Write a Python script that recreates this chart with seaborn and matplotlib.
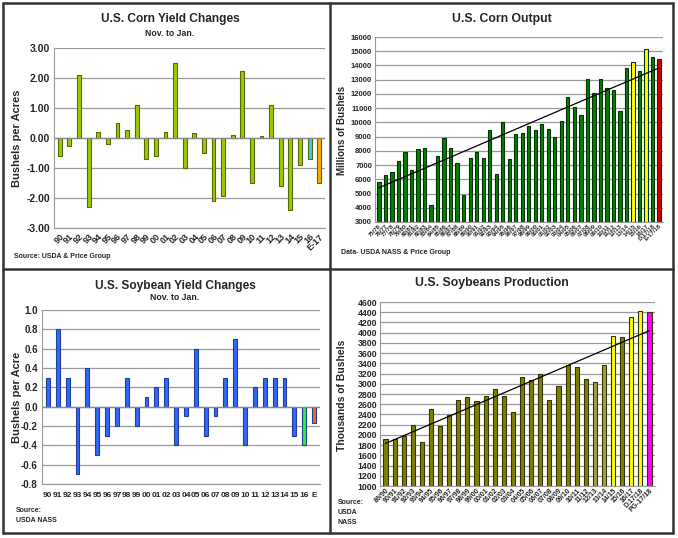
import numpy as np
import pandas as pd
import matplotlib
matplotlib.use("Agg")
import matplotlib.pyplot as plt
import seaborn as sns
from matplotlib.lines import Line2D

sns.set_style("white")
plt.rcParams["font.family"] = ["Liberation Sans", "DejaVu Sans"]
plt.rcParams["font.weight"] = "bold"

# ------------------------------------------
# Data
# ------------------------------------------
corn_yield_years = ["90", "91", "92", "93", "94", "95", "96", "97", "98", "99",
                    "00", "01", "02", "03", "04", "05", "06", "07", "08", "09",
                    "10", "11", "12", "13", "14", "15", "16", "E-17"]
corn_yield_change = [-0.6, -0.25, 2.1, -2.3, 0.2, -0.2, 0.5, 0.27, 1.1, -0.7,
                     -0.6, 0.2, 2.5, -1.0, 0.17, -0.5, -2.1, -1.95, 0.1, 2.25,
                     -1.5, 0.07, 1.1, -1.6, -2.4, -0.9, -0.7, -1.5]

corn_out_years = ["75/76", "76/77", "77/78", "78/79", "79/80", "80/81", "81/82",
                  "82/83", "83/84", "84/85", "85/86", "86/87", "87/88", "88/89",
                  "89/90", "90/91", "91/92", "92/93", "93/94", "94/95", "95/96",
                  "96/97", "97/98", "98/99", "99/00", "00/01", "01/02", "02/03",
                  "03/04", "04/05", "05/06", "06/07", "07/08", "08/09", "09/10",
                  "10/11", "11/12", "12/13", "13/14", "14/15", "15/16", "16/17",
                  "D.17/18", "E-17/18"]
corn_output = [5840, 6290, 6500, 7270, 7930, 6650, 8120, 8230, 4180, 7670,
               8880, 8230, 7130, 4930, 7530, 7930, 7480, 9470, 6340, 10050,
               7400, 9210, 9230, 9760, 9430, 9920, 9510, 8970, 10090, 11810,
               11110, 10530, 13040, 12040, 13070, 12450, 12310, 10780, 13830,
               14220, 13600, 15150, 14600, 14480]

soy_yield_years = ["90", "91", "92", "93", "94", "95", "96", "97", "98", "99",
                   "00", "01", "02", "03", "04", "05", "06", "07", "08", "09",
                   "10", "11", "12", "13", "14", "15", "16", "E"]
soy_yield_change = [0.3, 0.8, 0.3, -0.7, 0.4, -0.5, -0.3, -0.2, 0.3, -0.2,
                    0.1, 0.2, 0.3, -0.4, -0.1, 0.6, -0.3, -0.1, 0.3, 0.7,
                    -0.4, 0.2, 0.3, 0.3, 0.3, -0.3, -0.4, -0.17]

soy_prod_years = ["89/90", "90/91", "91/92", "92/93", "93/94", "94/95", "95/96",
                  "96/97", "97/98", "98/99", "99/00", "00/01", "01/02", "02/03",
                  "03/04", "04/05", "05/06", "06/07", "07/08", "08/09", "09/10",
                  "10/11", "11/12", "12/13", "13/14", "14/15", "15/16", "16/17",
                  "D.17/18", "PG-17/18"]
soy_production = [1925, 1925, 1985, 2190, 1870, 2515, 2175, 2380, 2690, 2740,
                  2655, 2760, 2890, 2755, 2455, 3125, 3065, 3190, 2675, 2965,
                  3360, 3325, 3095, 3035, 3360, 3930, 3925, 4300, 4430, 4410]

# ------------------------------------------
# Colours
# ------------------------------------------
corn_yield_colors = ["#99cc00"] * 26 + ["#33ccff", "#ffaa00"]
corn_out_colors = ["#0a7a0a"] * 44
corn_out_colors[39] = "#ffff00"
corn_out_colors[41] = "#ffff00"
corn_out_colors[43] = "#cc0000"
soy_yield_colors = ["#3366ff"] * 26 + ["#33ee33", "#ff6600"]
soy_prod_colors = ["#808000"] * 30
soy_prod_colors[23] = "#a0a040"
soy_prod_colors[24] = "#a0a040"
soy_prod_colors[25] = "#ffff00"
soy_prod_colors[27] = "#ffff00"
soy_prod_colors[28] = "#ffff00"
soy_prod_colors[29] = "#ff00ff"

W, H = 678, 538
fig = plt.figure(figsize=(W / 100, H / 100), dpi=100)


def px_axes(left, top, right, bottom):
    return fig.add_axes([left / W, 1 - bottom / H, (right - left) / W, (bottom - top) / H])


def ftext(x, y, s, **kw):
    return fig.text(x / W, 1 - y / H, s, **kw)


def bars(ax, labels, values, colors, width, edge):
    df = pd.DataFrame({"label": labels, "value": values})
    sns.barplot(data=df, x="label", y="value", hue="label", palette=colors,
                order=labels, hue_order=labels, legend=False, width=width,
                edgecolor=edge, linewidth=0.8, ax=ax, saturation=1)
    ax.set_xlabel("")
    ax.set_ylabel("")
    ax.set_xlim(-0.6, len(labels) - 0.4)
    ax.grid(axis="y", color="#999999", linewidth=0.9)
    ax.set_axisbelow(True)
    for s in ["top", "right"]:
        ax.spines[s].set_visible(False)
    for s in ["left", "bottom"]:
        ax.spines[s].set_color("#999999")


def trend(ax, values):
    x = np.arange(len(values))
    k, b = np.polyfit(x, values, 1)
    ax.plot(x, k * x + b, color="black", linewidth=0.9, zorder=5)


def slant(ax):
    for t in ax.get_xticklabels():
        t.set_rotation(45)
        t.set_ha("right")
        t.set_rotation_mode("anchor")


# ------------------------------------------
# Corn yield changes
# ------------------------------------------
ax1 = px_axes(54, 48, 325, 228)
bars(ax1, corn_yield_years, corn_yield_change, corn_yield_colors, 0.4, "#556b00")
ticks1 = [-3, -2, -1, 0, 1, 2, 3]
ax1.set_ylim(-3, 3)
ax1.set_yticks(ticks1)
ax1.set_yticklabels([f"{v:.2f}" for v in ticks1], fontsize=7.5)
ax1.axhline(0, color="#888888", linewidth=0.9)
ax1.tick_params(axis="x", labelsize=6.5, length=0, pad=3)
ax1.tick_params(axis="y", length=0, pad=3)
slant(ax1)
ftext(17, 138, "Bushels per Acres", rotation=90, ha="center", va="center",
      fontsize=8)
ftext(170, 19, "U.S. Corn Yield Changes", ha="center", va="center", fontsize=8.6)
ftext(170, 33, "Nov. to Jan.", ha="center", va="center", fontsize=6.3)
ftext(14, 256, "Source: USDA & Price Group", ha="left", va="center", fontsize=5)

# ------------------------------------------
# Corn output
# ------------------------------------------
ax2 = px_axes(375, 37, 663, 222)
bars(ax2, corn_out_years, corn_output, corn_out_colors, 0.5, "#003300")
trend(ax2, corn_output)
ax2.set_ylim(3000, 16000)
ax2.set_yticks(range(3000, 16001, 1000))
ax2.tick_params(axis="y", labelsize=5.5, length=0, pad=2)
ax2.tick_params(axis="x", labelsize=4.3, length=0, pad=1)
slant(ax2)
ftext(342, 130, "Millions of Bushels", rotation=90, ha="center", va="center",
      fontsize=7)
ftext(502, 19, "U.S. Corn Output", ha="center", va="center", fontsize=8.8)
ftext(341, 252, "Data- USDA NASS & Price Group", ha="left", va="center",
      fontsize=5)

# ------------------------------------------
# Soybean yield changes
# ------------------------------------------
ax3 = px_axes(42, 310, 320, 484)
bars(ax3, soy_yield_years, soy_yield_change, soy_yield_colors, 0.4, "#1f3f99")
ticks3 = [-0.8, -0.6, -0.4, -0.2, 0.0, 0.2, 0.4, 0.6, 0.8, 1.0]
ax3.set_ylim(-0.8, 1.0)
ax3.set_yticks(ticks3)
ax3.set_yticklabels([f"{v:.1f}" for v in ticks3], fontsize=7)
ax3.axhline(0, color="#888888", linewidth=0.9)
ax3.tick_params(axis="x", labelsize=6, length=0, pad=6)
ax3.tick_params(axis="y", length=0, pad=3)
ftext(17, 397, "Bushels per Acre", rotation=90, ha="center", va="center",
      fontsize=8)
ftext(175, 286, "U.S. Soybean Yield Changes", ha="center", va="center",
      fontsize=8.6)
ftext(175, 298, "Nov. to Jan.", ha="center", va="center", fontsize=6.3)
ftext(16, 515, "Source:\nUSDA NASS", ha="left", va="center", fontsize=5,
      linespacing=1.6)

# ------------------------------------------
# Soybeans production
# ------------------------------------------
ax4 = px_axes(380, 302, 655, 486)
bars(ax4, soy_prod_years, soy_production, soy_prod_colors, 0.45, "#333300")
trend(ax4, soy_production)
ax4.set_ylim(1000, 4600)
ax4.set_yticks(range(1000, 4601, 200))
ax4.tick_params(axis="y", labelsize=6.3, length=0, pad=2)
ax4.tick_params(axis="x", labelsize=5, length=0, pad=1)
slant(ax4)
ftext(342, 395, "Thousands of Bushels", rotation=90, ha="center", va="center",
      fontsize=7.5)
ftext(492, 283, "U.S. Soybeans Production", ha="center", va="center", fontsize=8.8)
ftext(338, 512, "Source:\nUSDA\nNASS", ha="left", va="center", fontsize=5,
      linespacing=1.6)

# ------------------------------------------
# Panel borders
# ------------------------------------------
def fline(x0, y0, x1, y1, lw=1.8):
    fig.add_artist(Line2D([x0 / W, x1 / W], [1 - y0 / H, 1 - y1 / H],
                         color="#333333", linewidth=lw))


fline(3, 3, 673, 3)
fline(3, 533, 673, 533)
fline(3, 3, 3, 533)
fline(673, 3, 673, 533)
fline(330, 3, 330, 533)
fline(3, 269, 673, 269)

plt.savefig("out.png", dpi=100)
